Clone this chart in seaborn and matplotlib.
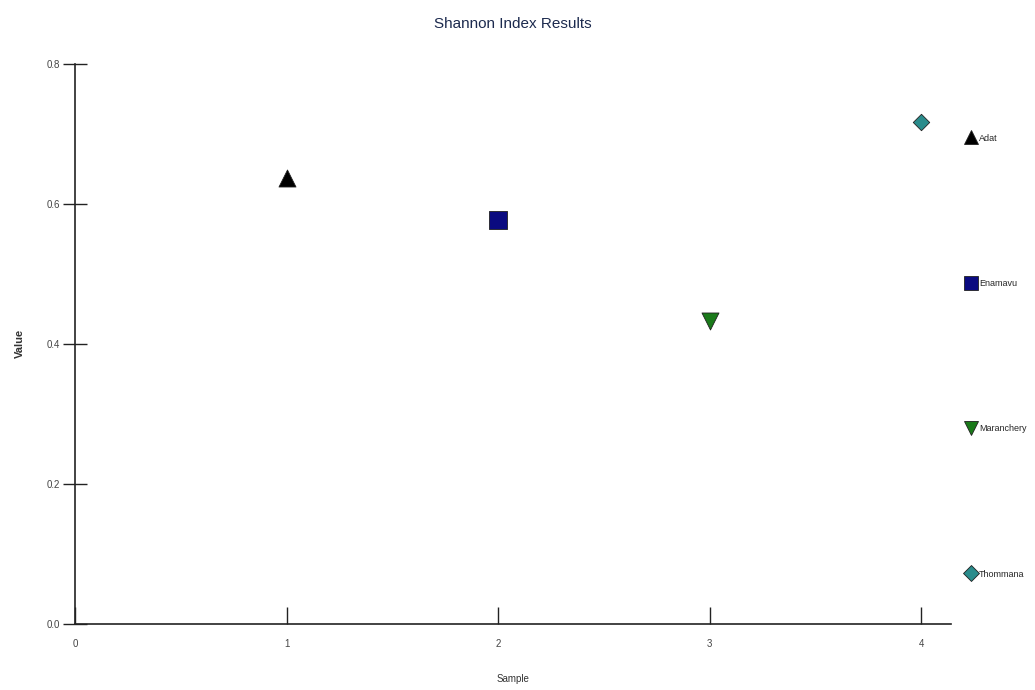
import matplotlib
matplotlib.use("Agg")
import matplotlib.pyplot as plt
import seaborn as sns
import pandas as pd
from matplotlib.lines import Line2D

# Shannon index per sampling site
sites = ["Adat", "Enamavu", "Maranchery", "Thommana"]
samples = [1, 2, 3, 4]
values = [0.637, 0.577, 0.433, 0.717]

colors = ["#000000", "#0a0a80", "#1a7a1a", "#2a8c8c"]
markers = ["^", "s", "v", "D"]
sizes = [150, 150, 150, 70]

df = pd.DataFrame({"Sample": samples, "Value": values, "Site": sites})

sns.set_style("white")
plt.rcParams["font.family"] = ["Liberation Sans", "DejaVu Sans"]

fig = plt.figure(figsize=(10.35, 6.9), dpi=100)
ax = fig.add_axes([0.0725, 0.0957, 0.846, 0.812])

for site, c, m, s in zip(sites, colors, markers, sizes):
    sub = df[df["Site"] == site]
    sns.scatterplot(data=sub, x="Sample", y="Value", ax=ax, color=c,
                    marker=m, s=s, edgecolor="#202020", linewidth=0.6,
                    legend=False, zorder=3)

ax.set_xlim(0, 4.14)
ax.set_ylim(0, 0.8)
ax.set_xticks([0, 1, 2, 3, 4])
ax.set_xticklabels(["0", "1", "2", "3", "4"])
ax.set_yticks([0.0, 0.2, 0.4, 0.6, 0.8])
ax.set_yticklabels(["0.0", "0.2", "0.4", "0.6", "0.8"])

for side in ["top", "right"]:
    ax.spines[side].set_visible(False)
for side in ["left", "bottom"]:
    ax.spines[side].set_color("#222222")
    ax.spines[side].set_linewidth(1.2)

ax.tick_params(axis="y", left=True, direction="inout", length=17, width=1.0,
               labelsize=7, colors="#222222", labelcolor="#444444", pad=2)
ax.tick_params(axis="x", bottom=True, direction="in", length=12, width=1.0,
               labelsize=7, colors="#222222", labelcolor="#444444", pad=11)

ax.set_xlabel("Sample", fontsize=7, color="#333333", labelpad=18)
ax.set_ylabel("Value", fontsize=8, color="#333333", fontweight="bold",
              labelpad=16)
ax.set_title("Shannon Index Results", fontsize=11, color="#1c2a4e", pad=26)

handles = [Line2D([], [], linestyle="none", marker=m, color=c,
                  markeredgecolor="#202020", markeredgewidth=0.6,
                  markersize=(10 if m != "D" else 8))
           for c, m in zip(colors, markers)]
leg = fig.legend(handles, sites, loc="upper left",
                 bbox_to_anchor=(0.929, 0.813), frameon=False,
                 fontsize=6.5, labelspacing=15.1, handletextpad=0.25,
                 handlelength=1.2, borderpad=0)

fig.savefig("out.png", dpi=100)
